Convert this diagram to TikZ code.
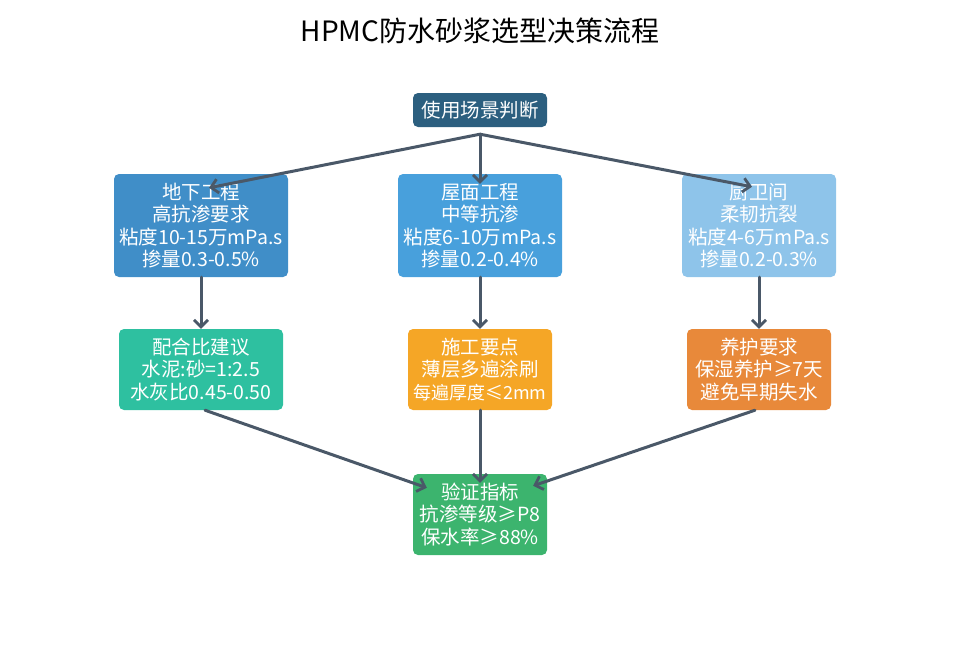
\documentclass[tikz,border=0pt]{standalone}
\usepackage{fontspec}
\setmainfont{Noto Sans CJK SC}
\usetikzlibrary{arrows.meta}
\definecolor{topc}{RGB}{44,95,127}
\definecolor{lonec}{RGB}{64,142,200}
\definecolor{monec}{RGB}{72,160,220}
\definecolor{ronec}{RGB}{142,196,234}
\definecolor{ltwoc}{RGB}{46,192,160}
\definecolor{mtwoc}{RGB}{245,166,38}
\definecolor{rtwoc}{RGB}{232,137,58}
\definecolor{botc}{RGB}{60,180,110}
\definecolor{arrc}{RGB}{74,88,104}
\begin{document}
\begin{tikzpicture}[x=1pt,y=-1pt,
  box/.style={rounded corners=5pt, inner sep=0pt, text=white, align=center,
    font=\fontsize{19.5}{22.5}\selectfont},
  arr/.style={draw=arrc, line width=3pt, line cap=round,
    -{Straight Barb[length=7pt,width=14pt,line width=2.8pt]}}]
\useasboundingbox (0,0) rectangle (959,645);
\node (title) at (480,31) {\fontsize{28}{30}\selectfont HPMC防水砂浆选型决策流程};
\node[box, fill=topc, minimum width=134pt, minimum height=34pt] (top) at (480,110) {使用场景判断};
\node[box, fill=lonec, minimum width=174pt, minimum height=103pt] (L1) at (201,225.5)
  {地下工程\\高抗渗要求\\粘度10-15万mPa.s\\掺量0.3-0.5\%};
\node[box, fill=monec, minimum width=164pt, minimum height=103pt] (M1) at (480,225.5)
  {屋面工程\\中等抗渗\\粘度6-10万mPa.s\\掺量0.2-0.4\%};
\node[box, fill=ronec, minimum width=154pt, minimum height=103pt] (R1) at (759,225.5)
  {厨卫间\\柔韧抗裂\\粘度4-6万mPa.s\\掺量0.2-0.3\%};
\node[box, fill=ltwoc, minimum width=164pt, minimum height=81pt] (L2) at (201,369.5)
  {配合比建议\\水泥:砂=1:2.5\\水灰比0.45-0.50};
\node[box, fill=mtwoc, minimum width=144pt, minimum height=81pt] (M2) at (480,369.5)
  {施工要点\\薄层多遍涂刷\\{\fontsize{18}{22.5}\selectfont 每遍厚度≤2mm}};
\node[box, fill=rtwoc, minimum width=144pt, minimum height=81pt] (R2) at (759,369.5)
  {养护要求\\保湿养护≥7天\\避免早期失水};
\node[box, fill=botc, minimum width=134pt, minimum height=81pt] (B) at (480,514.5)
  {验证指标\\抗渗等级≥P8\\保水率≥88\%};
\coordinate (ts) at ([yshift=-7pt]top.south);
\draw[arr] (ts) -- ([xshift=8pt,yshift=-14pt]L1.north);
\draw[arr] (ts) -- ([yshift=-10pt]M1.north);
\draw[arr] (ts) -- ([xshift=-7pt,yshift=-13pt]R1.north);
\draw[arr] (L1.south) -- (L2.north);
\draw[arr] (M1.south) -- (M2.north);
\draw[arr] (R1.south) -- (R2.north);
\draw[arr] ([xshift=4pt]L2.south) -- ([xshift=14pt,yshift=-14pt]B.north west);
\draw[arr] (M2.south) -- ([yshift=-9pt]B.north);
\draw[arr] ([xshift=-4pt]R2.south) -- ([xshift=-14pt,yshift=-12pt]B.north east);
\end{tikzpicture}
\end{document}
